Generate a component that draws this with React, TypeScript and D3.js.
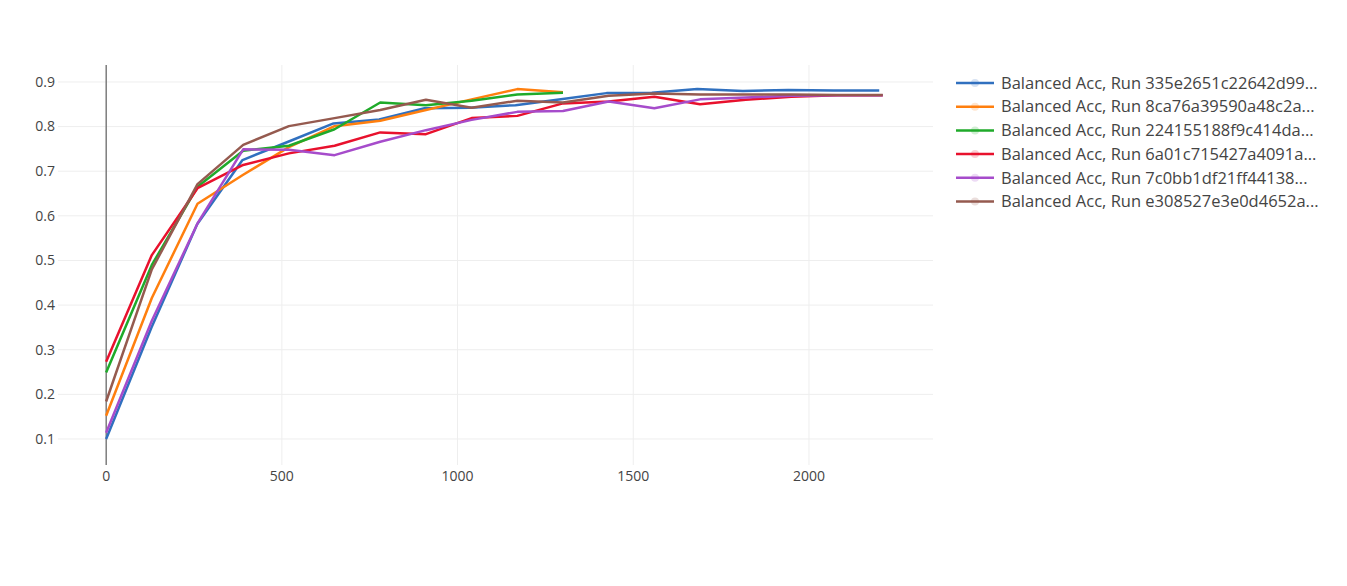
import React from "react";
import * as d3 from "d3";

const stepsShort = [0, 130, 260, 390, 520, 650, 780, 910, 1040, 1170, 1300];
const stepsLong = [0, 130, 260, 390, 520, 650, 780, 910, 1040, 1170, 1300, 1430, 1560, 1690, 1820, 1950, 2080, 2210];
const stepsBlue = [0, 129, 259, 388, 518, 647, 777, 906, 1035, 1165, 1294, 1424, 1553, 1682, 1812, 1941, 2071, 2200];

const blueVals = [0.1, 0.35, 0.581, 0.725, 0.766, 0.807, 0.816, 0.841, 0.842, 0.848, 0.861, 0.875, 0.876, 0.884, 0.88, 0.882, 0.881, 0.881];
const orangeVals = [0.152, 0.416, 0.627, 0.692, 0.754, 0.801, 0.813, 0.837, 0.861, 0.884, 0.877];
const greenVals = [0.249, 0.49, 0.665, 0.746, 0.757, 0.794, 0.854, 0.848, 0.858, 0.872, 0.876];
const redVals = [0.273, 0.512, 0.662, 0.714, 0.74, 0.757, 0.787, 0.783, 0.819, 0.824, 0.852, 0.856, 0.867, 0.85, 0.86, 0.867, 0.87, 0.87];
const purpleVals = [0.114, 0.365, 0.583, 0.749, 0.748, 0.736, 0.766, 0.792, 0.815, 0.833, 0.835, 0.856, 0.841, 0.861, 0.865, 0.869, 0.87, 0.87];
const brownVals = [0.184, 0.48, 0.671, 0.759, 0.801, 0.819, 0.837, 0.86, 0.842, 0.858, 0.854, 0.869, 0.874, 0.872, 0.872, 0.872, 0.871, 0.871];

const seriesNames = [
  "Balanced Acc, Run 335e2651c22642d99...",
  "Balanced Acc, Run 8ca76a39590a48c2a...",
  "Balanced Acc, Run 224155188f9c414da...",
  "Balanced Acc, Run 6a01c715427a4091a...",
  "Balanced Acc, Run 7c0bb1df21ff44138...",
  "Balanced Acc, Run e308527e3e0d4652a...",
];
const seriesColors = ["#3070bf", "#ff7f0e", "#1faa2a", "#e8112d", "#a64ccb", "#955a4f"];
const seriesX = [stepsBlue, stepsShort, stepsShort, stepsLong, stepsLong, stepsLong];
const seriesY = [blueVals, orangeVals, greenVals, redVals, purpleVals, brownVals];

const xTicks = [0, 500, 1000, 1500, 2000];
const yTicks = [0.1, 0.2, 0.3, 0.4, 0.5, 0.6, 0.7, 0.8, 0.9];

const W = 1347;
const H = 586;
const plot = { left: 58, right: 933, top: 65, bottom: 465 };
const FONT = "'Open Sans', verdana, arial, sans-serif";

export default function App() {
  const x = d3.scaleLinear().domain([-137, 2353]).range([plot.left, plot.right]);
  const y = d3.scaleLinear().domain([0.0417, 0.938]).range([plot.bottom, plot.top]);

  const series = seriesNames.map((name, i) => ({
    name,
    color: seriesColors[i],
    pts: seriesX[i].map((xv, j) => [xv, seriesY[i][j]] as [number, number]),
  }));

  const line = d3
    .line<[number, number]>()
    .x((d) => x(d[0]))
    .y((d) => y(d[1]));

  return (
    <svg
      width={W}
      height={H}
      style={{ position: "absolute", left: 0, top: 0, background: "#fff" }}
      fontFamily={FONT}
    >
      <defs>
        <clipPath id="plotclip">
          <rect x={plot.left} y={plot.top} width={plot.right - plot.left} height={plot.bottom - plot.top} />
        </clipPath>
      </defs>
      {xTicks.map((t) => (
        <line key={"gx" + t} x1={x(t)} x2={x(t)} y1={plot.top} y2={plot.bottom} stroke="#eee" strokeWidth={1} />
      ))}
      {yTicks.map((t) => (
        <line key={"gy" + t} x1={plot.left} x2={plot.right} y1={y(t)} y2={y(t)} stroke="#eee" strokeWidth={1} />
      ))}
      <line x1={x(0)} x2={x(0)} y1={plot.top} y2={plot.bottom} stroke="#444" strokeWidth={1} />
      <g clipPath="url(#plotclip)">
        {series.map((s) => (
          <path key={s.name} d={line(s.pts) || ""} fill="none" stroke={s.color} strokeWidth={2.5} strokeLinejoin="round" />
        ))}
      </g>
      {xTicks.map((t) => (
        <text key={"tx" + t} x={x(t)} y={481} textAnchor="middle" fontSize={14} fill="#444">
          {t}
        </text>
      ))}
      {yTicks.map((t) => (
        <text key={"ty" + t} x={55} y={y(t)} dy="0.35em" textAnchor="end" fontSize={14} fill="#444">
          {t.toFixed(1)}
        </text>
      ))}
      {series.map((s, i) => {
        const ry = 83 + i * 23.7;
        return (
          <g key={"lg" + i}>
            <line x1={956} x2={994} y1={ry} y2={ry} stroke={s.color} strokeWidth={2.5} />
            <circle cx={975} cy={ry} r={4} fill={s.color} opacity={0.2} />
            <text x={1001} y={ry} dy="0.35em" fontSize={16.5} fill="#444">
              {s.name}
            </text>
          </g>
        );
      })}
    </svg>
  );
}
